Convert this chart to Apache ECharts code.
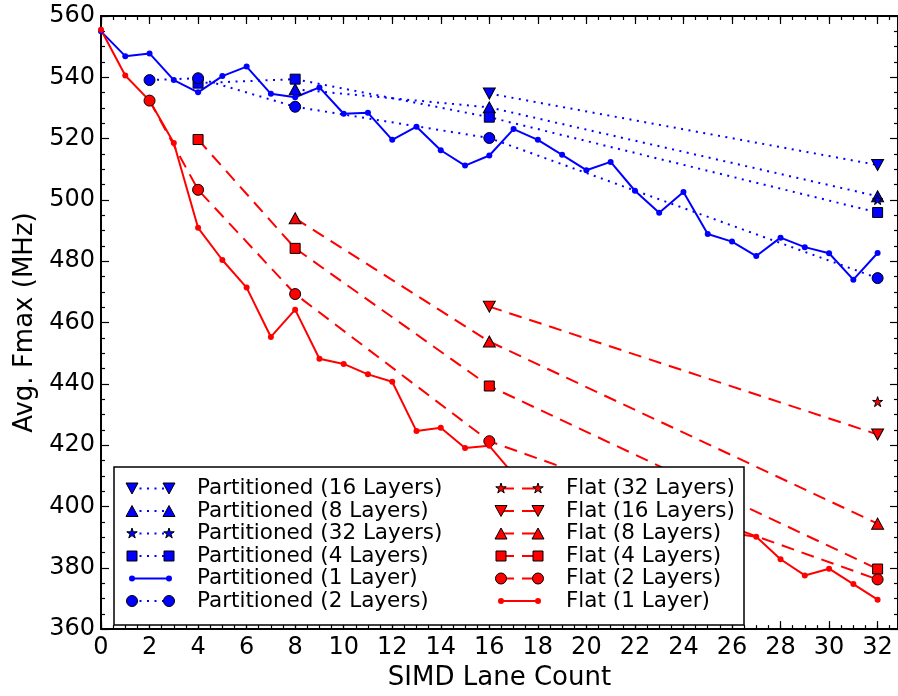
<!DOCTYPE html>
<html>
<head>
<meta charset="utf-8">
<script src="https://cdn.jsdelivr.net/npm/echarts@6/dist/echarts.min.js"></script>
<style>
  html, body { margin: 0; padding: 0; background: #ffffff; }
  #chart { width: 898px; height: 696px; }
</style>
</head>
<body>
<div id="chart"></div>
<script>
// ---- Data: average Fmax (MHz) against SIMD lane count ----
const lanesAll = [0, 1, 2, 3, 4, 5, 6, 7, 8, 9, 10, 11, 12, 13, 14, 15, 16,
                  17, 18, 19, 20, 21, 22, 23, 24, 25, 26, 27, 28, 29, 30, 31, 32];

const partitioned1 = [555.0, 546.9, 547.8, 539.1, 535.1, 540.4, 543.5, 534.6, 533.5, 536.7,
                      528.1, 528.4, 519.6, 523.9, 516.2, 511.2, 514.5, 523.1, 519.6, 514.7,
                      509.7, 512.4, 503.0, 495.8, 502.6, 488.9, 486.4, 481.7, 487.7, 484.6,
                      482.6, 474.0, 482.7];
const flat1 = [555.5, 540.6, 532.4, 518.6, 490.9, 480.4, 471.4, 455.3, 464.2, 448.2,
               446.5, 443.1, 440.7, 424.6, 425.7, 419.1, 419.8, 410.5, 409.2, 404.8,
               403.6, 399.1, 398.4, 395.0, 394.2, 392.6, 391.3, 390.1, 382.8, 377.5,
               379.7, 374.7, 369.6];

const lanes2 = [2, 4, 8, 16, 32];
const lanes4 = [4, 8, 16, 32];
const lanes8 = [8, 16, 32];
const lanes16 = [16, 32];
const lanes32 = [32];

const partitioned2 = [539.1, 539.7, 530.4, 520.2, 474.5];
const partitioned4 = [538.1, 539.4, 527.0, 495.9];
const partitioned8 = [536.1, 530.2, 501.2];
const partitioned16 = [534.7, 511.4];
const partitioned32 = [500.1];

const flat2 = [532.4, 503.3, 469.3, 421.3, 376.2];
const flat4 = [519.7, 484.2, 439.3, 379.6];
const flat8 = [494.0, 453.8, 394.4];
const flat16 = [465.2, 423.5];
const flat32 = [434.2];

const xTicksMax = 32.84;   // right frame sits a little past the last labelled tick
const yMin = 360, yMax = 560, yStep = 20;

// ---- Styling ----
const BLUE = '#0000ff';
const RED = '#ff0000';
const FONT = '"DejaVu Sans", "Liberation Sans", sans-serif';
const STAR_PATH = 'path://M50 0 L61.23 34.55 L97.55 34.55 L68.16 55.9 L79.39 90.45 L50 69.1 L20.61 90.45 L31.84 55.9 L2.45 34.55 L38.77 34.55 Z';

const markers = {
  down:   { symbol: 'triangle', rotate: 180, size: [12, 11] },
  up:     { symbol: 'triangle', rotate: 0, size: [12, 11] },
  star:   { symbol: STAR_PATH, rotate: 0, size: 10 },
  square: { symbol: 'rect', rotate: 0, size: 10 },
  circle: { symbol: 'circle', rotate: 0, size: 11 },
  dot:    { symbol: 'circle', rotate: 0, size: 6, plain: true }
};
const dashes = { dotted: [2, 5.5], dashed: [13, 8], solid: 'solid' };

const seriesDefs = [
  { name: 'Partitioned (16 Layers)', x: lanes16, y: partitioned16, color: BLUE, mark: 'down',   line: 'dotted' },
  { name: 'Partitioned (8 Layers)',  x: lanes8,  y: partitioned8,  color: BLUE, mark: 'up',     line: 'dotted' },
  { name: 'Partitioned (32 Layers)', x: lanes32, y: partitioned32, color: BLUE, mark: 'star',   line: 'dotted' },
  { name: 'Partitioned (4 Layers)',  x: lanes4,  y: partitioned4,  color: BLUE, mark: 'square', line: 'dotted' },
  { name: 'Partitioned (1 Layer)',   x: lanesAll, y: partitioned1, color: BLUE, mark: 'dot',    line: 'solid' },
  { name: 'Partitioned (2 Layers)',  x: lanes2,  y: partitioned2,  color: BLUE, mark: 'circle', line: 'dotted' },
  { name: 'Flat (32 Layers)', x: lanes32, y: flat32, color: RED, mark: 'star',   line: 'dashed' },
  { name: 'Flat (16 Layers)', x: lanes16, y: flat16, color: RED, mark: 'down',   line: 'dashed' },
  { name: 'Flat (8 Layers)',  x: lanes8,  y: flat8,  color: RED, mark: 'up',     line: 'dashed' },
  { name: 'Flat (4 Layers)',  x: lanes4,  y: flat4,  color: RED, mark: 'square', line: 'dashed' },
  { name: 'Flat (2 Layers)',  x: lanes2,  y: flat2,  color: RED, mark: 'circle', line: 'dashed' },
  { name: 'Flat (1 Layer)',   x: lanesAll, y: flat1, color: RED, mark: 'dot',    line: 'solid' }
];

const series = seriesDefs.map(function (d) {
  const m = markers[d.mark];
  return {
    name: d.name,
    type: 'line',
    xAxisIndex: 0,
    yAxisIndex: 0,
    data: d.x.map(function (x, i) { return [x, d.y[i]]; }),
    symbol: m.symbol,
    symbolSize: m.size,
    symbolRotate: m.rotate,
    showSymbol: true,
    showAllSymbol: true,
    itemStyle: {
      color: d.color,
      borderColor: m.plain ? d.color : '#000000',
      borderWidth: m.plain ? 0 : 1,
      opacity: 1
    },
    lineStyle: { color: d.color, width: 2, type: dashes[d.line], cap: 'butt' },
    emphasis: { disabled: true },
    silent: true,
    animation: false,
    z: 2
  };
});

// ---- Legend box (two columns, a marker at each end of the line sample) ----
const LEGEND_Z = 50;
function markerShape(kind, cx, cy, color) {
  const edge = { fill: color, stroke: '#000000', lineWidth: 1 };
  let el;
  if (kind === 'circle') el = { type: 'circle', shape: { cx: cx, cy: cy, r: 5.5 }, style: edge };
  else if (kind === 'dot') el = { type: 'circle', shape: { cx: cx, cy: cy, r: 3 }, style: { fill: color } };
  else if (kind === 'square') el = { type: 'rect', shape: { x: cx - 5, y: cy - 5, width: 10, height: 10 }, style: edge };
  else if (kind === 'up') el = { type: 'polygon', shape: { points: [[cx, cy - 5.5], [cx - 6, cy + 5.5], [cx + 6, cy + 5.5]] }, style: edge };
  else if (kind === 'down') el = { type: 'polygon', shape: { points: [[cx - 6, cy - 5.5], [cx + 6, cy - 5.5], [cx, cy + 5.5]] }, style: edge };
  else {
    const pts = [];
    for (let k = 0; k < 10; k++) {
      const r = (k % 2 === 0) ? 5.5 : 5.5 * 0.382;
      const a = -Math.PI / 2 + k * Math.PI / 5;
      pts.push([cx + r * Math.cos(a), cy + r * Math.sin(a)]);
    }
    el = { type: 'polygon', shape: { points: pts }, style: edge };
  }
  el.z = LEGEND_Z + 2;
  return el;
}

const legendBox = { x: 114, y: 467, w: 630, h: 158 };
const legendCols = [
  { m1: 132, m2: 169, text: 197 },
  { m1: 501, m2: 538, text: 566 }
];
const rowTop = 488.5, rowStep = 22.5;

const legendElements = [{
  type: 'rect',
  z: LEGEND_Z,
  shape: { x: legendBox.x, y: legendBox.y, width: legendBox.w, height: legendBox.h },
  style: { fill: '#ffffff', stroke: '#000000', lineWidth: 1.5 }
}];
seriesDefs.forEach(function (d, idx) {
  const col = legendCols[idx < 6 ? 0 : 1];
  const cy = rowTop + (idx % 6) * rowStep;
  const dash = dashes[d.line];
  legendElements.push({
    type: 'line',
    z: LEGEND_Z + 1,
    shape: { x1: col.m1, y1: cy, x2: col.m2, y2: cy },
    style: { stroke: d.color, lineWidth: 2, lineDash: Array.isArray(dash) ? dash : null, lineCap: 'butt' }
  });
  legendElements.push(markerShape(d.mark, col.m1, cy, d.color));
  legendElements.push(markerShape(d.mark, col.m2, cy, d.color));
  legendElements.push({
    type: 'text',
    z: LEGEND_Z + 1,
    x: col.text, y: cy,
    style: { text: d.name, fill: '#000000', fontSize: 21.5, fontFamily: FONT, verticalAlign: 'middle', align: 'left' }
  });
});

// ---- Axes ----
const axisLineStyle = { color: '#000000', width: 2 };
const tickLineStyle = { color: '#000000', width: 1.2 };

function xAxisDef(position, interval, tickLen, withLine, withLabels) {
  const def = {
    type: 'value', gridIndex: 0, position: position,
    min: 0, max: xTicksMax, interval: interval,
    splitLine: { show: false },
    axisLine: { show: withLine, onZero: false, lineStyle: axisLineStyle },
    axisTick: { show: true, inside: true, length: tickLen, lineStyle: tickLineStyle },
    axisLabel: { show: withLabels, fontSize: 24, color: '#000000', fontFamily: FONT, margin: 7, showMaxLabel: false },
    silent: true
  };
  if (withLabels) {
    def.name = 'SIMD Lane Count';
    def.nameLocation = 'middle';
    def.nameGap = 33;
    def.nameTextStyle = { fontSize: 26, color: '#000000', fontFamily: FONT };
  }
  return def;
}

function yAxisDef(position, withLabels) {
  const def = {
    type: 'value', gridIndex: 0, position: position,
    min: yMin, max: yMax, interval: yStep,
    splitLine: { show: false },
    axisLine: { show: true, onZero: false, lineStyle: axisLineStyle },
    axisTick: { show: true, inside: true, length: 8, lineStyle: tickLineStyle },
    minorTick: { show: true, splitNumber: 4, length: 4, lineStyle: tickLineStyle },
    axisLabel: { show: withLabels, fontSize: 24, color: '#000000', fontFamily: FONT, margin: 6 },
    silent: true
  };
  if (withLabels) {
    def.name = 'Avg. Fmax (MHz)';
    def.nameLocation = 'middle';
    def.nameGap = 61.5;
    def.nameTextStyle = { fontSize: 26, color: '#000000', fontFamily: FONT };
  }
  return def;
}

const chart = echarts.init(document.getElementById('chart'), null, { renderer: 'canvas' });
chart.setOption({
  animation: false,
  backgroundColor: '#ffffff',
  grid: { left: 101, right: -1, top: 16, bottom: 60, containLabel: false },
  xAxis: [
    xAxisDef('bottom', 2, 8, true, true),
    xAxisDef('bottom', 0.5, 4, false, false),
    xAxisDef('top', 2, 8, true, false),
    xAxisDef('top', 0.5, 4, false, false)
  ],
  yAxis: [
    yAxisDef('left', true),
    yAxisDef('right', false)
  ],
  series: series,
  graphic: { elements: legendElements }
});
</script>
</body>
</html>
